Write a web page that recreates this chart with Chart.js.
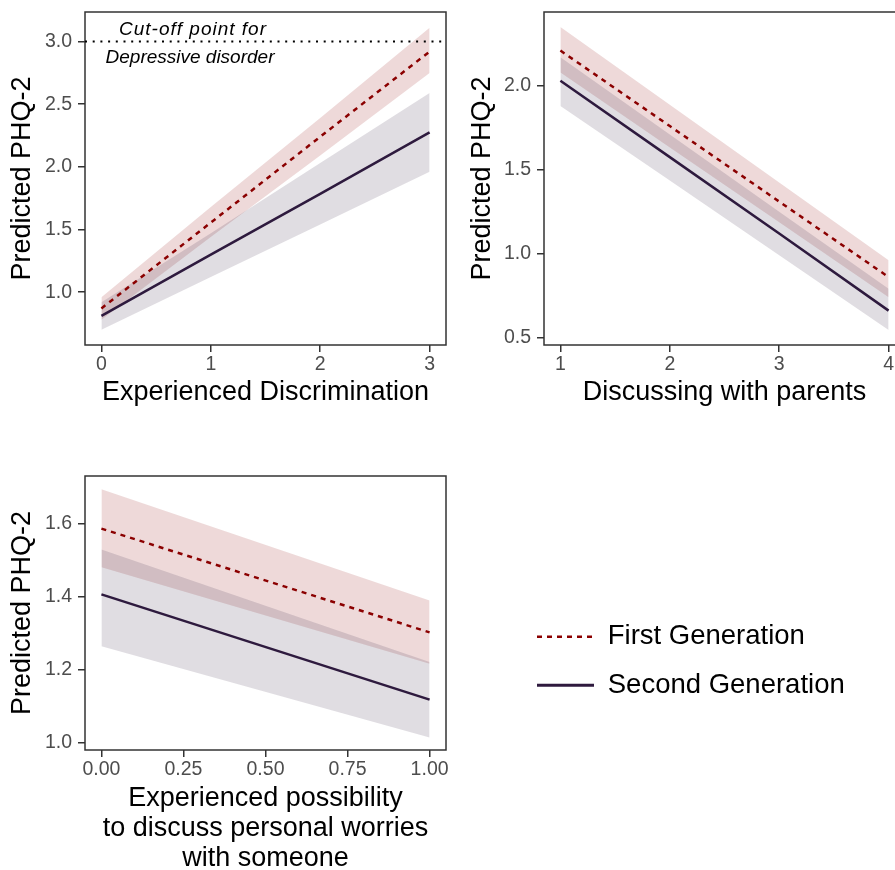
<!DOCTYPE html>
<html><head><meta charset="utf-8">
<script src="https://cdn.jsdelivr.net/npm/chart.js@4.4.1/dist/chart.umd.min.js"></script>
<style>
html,body{margin:0;padding:0;background:#fff;overflow:hidden;width:895px;height:870px;}
canvas{position:absolute;display:block;}
</style></head><body>
<canvas id="c1" width="450" height="410" style="left:0;top:0"></canvas>
<canvas id="c2" width="460" height="410" style="left:450px;top:0"></canvas>
<canvas id="c3" width="450" height="414" style="left:0;top:460px"></canvas>
<canvas id="c4" width="379" height="130" style="left:516px;top:602px"></canvas>
<script>
// ---------- data ----------
const SERIES = ['First Generation', 'Second Generation'];
const Y_TITLE = 'Predicted PHQ-2';

// Panel 1: Experienced Discrimination
const P1_TITLE = 'Experienced Discrimination';
const P1_X = [0, 1, 2, 3];
const P1_FIRST = [0.87, 1.555, 2.24, 2.92];
const P1_FIRST_LO = [0.78, 1.44, 2.09, 2.75];
const P1_FIRST_HI = [0.96, 1.68, 2.39, 3.11];
const P1_SECOND = [0.81, 1.30, 1.785, 2.275];
const P1_SECOND_LO = [0.70, 1.12, 1.54, 1.96];
const P1_SECOND_HI = [0.92, 1.47, 2.03, 2.59];
const P1_XTICKS = ['0', '1', '2', '3'];
const P1_YTICKS = ['1.0', '1.5', '2.0', '2.5', '3.0'];
const CUTOFF = 3.0;
const CUTOFF_LABEL = ['Cut-off point for', 'Depressive disorder'];

// Panel 2: Discussing with parents
const P2_TITLE = 'Discussing with parents';
const P2_X = [1, 2, 3, 4];
const P2_FIRST = [2.21, 1.76, 1.31, 0.86];
const P2_FIRST_LO = [2.08, 1.633, 1.187, 0.74];
const P2_FIRST_HI = [2.35, 1.887, 1.423, 0.96];
const P2_SECOND = [2.03, 1.575, 1.12, 0.66];
const P2_SECOND_LO = [1.88, 1.435, 0.99, 0.545];
const P2_SECOND_HI = [2.17, 1.71, 1.25, 0.79];
const P2_XTICKS = ['1', '2', '3', '4'];
const P2_YTICKS = ['0.5', '1.0', '1.5', '2.0'];

// Panel 3: Experienced possibility to discuss personal worries
const P3_TITLE = ['Experienced possibility', 'to discuss personal worries', 'with someone'];
const P3_X = [0, 1];
const P3_FIRST = [1.587, 1.303];
const P3_FIRST_LO = [1.481, 1.217];
const P3_FIRST_HI = [1.695, 1.39];
const P3_SECOND = [1.407, 1.119];
const P3_SECOND_LO = [1.265, 1.015];
const P3_SECOND_HI = [1.53, 1.222];
const P3_XTICKS = ['0.00', '0.25', '0.50', '0.75', '1.00'];
const P3_YTICKS = ['1.0', '1.2', '1.4', '1.6'];

// ---------- styling ----------
const FONT = '"Liberation Sans", Arial, Helvetica, sans-serif';
const LINE_COLORS = ['#8B0000', '#2E1A3E'];
const BAND_COLORS = ['rgba(139,0,0,0.15)', 'rgba(46,26,62,0.15)'];
const DASH = [5, 5];

function pts(xs, ys) { return xs.map((x, i) => ({x: x, y: ys[i]})); }

function makeDatasets(xs, f, fLo, fHi, s, sLo, sHi) {
  const band = (ys, fill, color, order) => ({
    data: pts(xs, ys), fill: fill, backgroundColor: color, borderColor: 'rgba(0,0,0,0)',
    borderWidth: 0, pointRadius: 0, tension: 0, order: order
  });
  return [
    band(fHi, '+1', BAND_COLORS[0], 3),
    band(fLo, false, BAND_COLORS[0], 3),
    band(sHi, '+1', BAND_COLORS[1], 2),
    band(sLo, false, BAND_COLORS[1], 2),
    {label: SERIES[0], data: pts(xs, f), borderColor: LINE_COLORS[0], borderDash: DASH,
     borderWidth: 2.5, pointRadius: 0, fill: false, tension: 0, order: 0},
    {label: SERIES[1], data: pts(xs, s), borderColor: LINE_COLORS[1],
     borderWidth: 2.5, pointRadius: 0, fill: false, tension: 0, order: 1}
  ];
}

const framePlugin = {
  id: 'frame',
  afterDatasetsDraw(chart) {
    const {ctx, chartArea: a} = chart;
    ctx.save();
    ctx.strokeStyle = '#333333';
    ctx.lineWidth = 1.5;
    ctx.setLineDash([]);
    ctx.strokeRect(a.left, a.top, a.right - a.left, a.bottom - a.top);
    ctx.restore();
  }
};

const cutoffPlugin = {
  id: 'cutoff',
  afterDatasetsDraw(chart) {
    const {ctx, chartArea: a} = chart;
    const y = chart.scales.y.getPixelForValue(CUTOFF);
    ctx.save();
    ctx.beginPath();
    ctx.setLineDash([2, 5.7]);
    ctx.lineWidth = 2;
    ctx.strokeStyle = '#000';
    ctx.moveTo(a.left, y);
    ctx.lineTo(a.right, y);
    ctx.stroke();
    ctx.setLineDash([]);
    ctx.fillStyle = '#000';
    ctx.font = 'italic 19px ' + FONT;
    ctx.textAlign = 'center';
    ctx.textBaseline = 'alphabetic';
    ctx.letterSpacing = '1px';
    ctx.fillText(CUTOFF_LABEL[0], a.left + 108, y - 7);
    ctx.letterSpacing = '0px';
    ctx.fillText(CUTOFF_LABEL[1], a.left + 105, y + 21);
    ctx.restore();
  }
};

function axis(o) {
  const isX = o.isX;
  return {
    type: 'linear', min: o.min, max: o.max,
    afterBuildTicks: (s) => { s.ticks = o.ticks.map(t => ({value: Number(t)})); },
    afterFit: (s) => {
      if (isX) s.height = o.size; else s.width = o.size;
      s.paddingLeft = 0; s.paddingRight = 0; s.paddingTop = 0; s.paddingBottom = 0;
    },
    ticks: {
      callback: (v, i) => o.ticks[i], autoSkip: false, maxRotation: 0, minRotation: 0,
      color: '#4D4D4D', padding: isX ? 1 : 6, font: {family: FONT, size: 19.5}
    },
    grid: {drawOnChartArea: false, drawTicks: true, tickLength: 7, tickColor: '#333333',
           tickWidth: 1.5, color: '#333333', lineWidth: 1.5},
    border: {display: false},
    title: {display: true, text: o.title, color: '#000',
            font: {family: FONT, size: 27, lineHeight: o.lh || 1.2},
            padding: o.tpad}
  };
}

function panel(id, cfg) {
  return new Chart(document.getElementById(id), {
    type: 'line',
    data: {datasets: cfg.datasets},
    options: {
      responsive: false, animation: false, devicePixelRatio: 1,
      layout: {padding: cfg.padding},
      plugins: {legend: {display: false}, tooltip: {enabled: false}},
      scales: {x: axis(cfg.x), y: axis(cfg.y)}
    },
    plugins: cfg.plugins
  });
}

panel('c1', {
  datasets: makeDatasets(P1_X, P1_FIRST, P1_FIRST_LO, P1_FIRST_HI, P1_SECOND, P1_SECOND_LO, P1_SECOND_HI),
  padding: {top: 12, right: 4, left: 0, bottom: 0},
  x: {isX: true, min: -0.15, max: 3.15, ticks: P1_XTICKS, size: 65, title: P1_TITLE, tpad: {top: 0, bottom: 0.8}},
  y: {isX: false, min: 0.578, max: 3.236, ticks: P1_YTICKS, size: 85, title: Y_TITLE, tpad: {top: 6.8, bottom: 0}},
  plugins: [framePlugin, cutoffPlugin]
});

panel('c2', {
  datasets: makeDatasets(P2_X, P2_FIRST, P2_FIRST_LO, P2_FIRST_HI, P2_SECOND, P2_SECOND_LO, P2_SECOND_HI),
  padding: {top: 12, right: 5, left: 0, bottom: 0},
  x: {isX: true, min: 0.85, max: 4.15, ticks: P2_XTICKS, size: 65, title: P2_TITLE, tpad: {top: 0, bottom: 0.8}},
  y: {isX: false, min: 0.455, max: 2.44, ticks: P2_YTICKS, size: 94, title: Y_TITLE, tpad: {top: 16.3, bottom: 0}},
  plugins: [framePlugin]
});

panel('c3', {
  datasets: makeDatasets(P3_X, P3_FIRST, P3_FIRST_LO, P3_FIRST_HI, P3_SECOND, P3_SECOND_LO, P3_SECOND_HI),
  padding: {top: 16, right: 4, left: 0, bottom: 0},
  x: {isX: true, min: -0.05, max: 1.05, ticks: P3_XTICKS, size: 124, title: P3_TITLE, lh: 1.111, tpad: {top: 0, bottom: 0}},
  y: {isX: false, min: 0.981, max: 1.731, ticks: P3_YTICKS, size: 85, title: Y_TITLE, tpad: {top: 6.8, bottom: 0}},
  plugins: [framePlugin]
});

// Legend (library legend on an axis-less chart)
new Chart(document.getElementById('c4'), {
  type: 'line',
  data: {datasets: [
    {label: SERIES[0], data: [], borderColor: LINE_COLORS[0], backgroundColor: LINE_COLORS[0], borderDash: DASH, borderWidth: 2.5},
    {label: SERIES[1], data: [], borderColor: LINE_COLORS[1], backgroundColor: LINE_COLORS[1], borderWidth: 2.8}
  ]},
  options: {
    responsive: false, animation: false, devicePixelRatio: 1,
    layout: {padding: 0},
    scales: {x: {display: false}, y: {display: false}},
    plugins: {
      tooltip: {enabled: false},
      legend: {
        position: 'left', align: 'start', maxWidth: 400,
        labels: {
          usePointStyle: true, pointStyle: 'line', pointStyleWidth: 57, padding: 21,
          color: '#000', font: {family: FONT, size: 27.5},
          generateLabels: (chart) => Chart.defaults.plugins.legend.labels.generateLabels(chart).map(it => {
            const ds = chart.data.datasets[it.datasetIndex];
            return Object.assign({}, it, {lineDash: ds.borderDash || [], lineWidth: ds.borderWidth,
                                          strokeStyle: ds.borderColor, pointStyle: 'line'});
          })
        }
      }
    }
  }
});
</script>
</body></html>
